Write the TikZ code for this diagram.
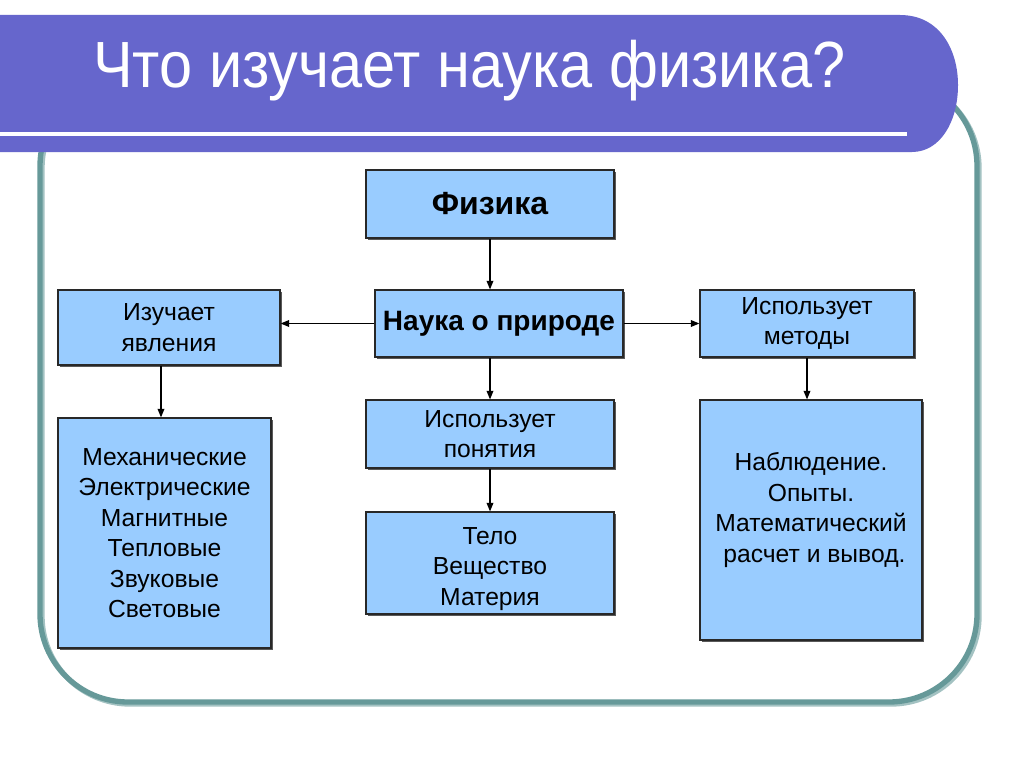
\documentclass[tikz,border=0pt]{standalone}
\usepackage{fontspec}
\usepackage{graphicx}
\setmainfont{Liberation Sans}
\usetikzlibrary{arrows.meta,shadows}
\definecolor{hdr}{RGB}{102,102,204}
\definecolor{frm}{RGB}{102,153,153}
\definecolor{boxfill}{RGB}{153,204,255}
\definecolor{boxline}{RGB}{40,40,40}
\begin{document}
\begin{tikzpicture}[x=0.75pt,y=-0.75pt,
  blk/.style={draw=boxline,line width=0.8pt,fill=boxfill,inner sep=0pt,
    align=center,font=\fontsize{18.5}{22.9}\selectfont,
    drop shadow={shadow xshift=1.5pt,shadow yshift=-1.5pt,fill=black!65,opacity=1}},
  bblk/.style={blk,font=\fontsize{21}{25}\selectfont\bfseries},
  txt/.style={align=center,inner sep=0pt,font=\fontsize{18.5}{22.9}\selectfont},
  arr/.style={line width=1.1pt,-{Triangle[length=6.5pt,width=5pt]}}]
\useasboundingbox (0,0) rectangle (1024,767);
\fill[white] (0,0) rectangle (1024,767);
% frame
\draw[frm!60,line width=4pt,rounded corners=66] (42,80) rectangle (979,704);
\draw[frm,line width=4pt,rounded corners=66] (40,78) rectangle (977,702);
% header band
\fill[hdr] (-5,15) -- (900,15) .. controls (940,15) and (958,50) .. (958,85)
  .. controls (958,122) and (940,152) .. (912,152) -- (-5,152) -- cycle;
\draw[white,line width=3pt] (-5,134) -- (907,134);
\node[anchor=base west,inner sep=0pt,text=white,font=\fontsize{49}{50}\selectfont] (title) at (93,88)
  {\scalebox{0.91}[1]{Что изучает наука физика?}};
% boxes
\node[bblk,font=\fontsize{24}{28}\selectfont\bfseries,minimum width=186pt,minimum height=51pt] (fiz) at (490,204) {Физика};
\node[bblk,minimum width=186pt,minimum height=50.25pt] (nauka) at (499,323.5) {Наука о природе};
\node[blk,minimum width=166.5pt,minimum height=56.25pt] (izuch) at (169,327.5) {Изучает\\явления};
\node[blk,minimum width=160.5pt,minimum height=50.25pt] (metod) at (807,323.5) {Использует\\методы};
\node[blk,minimum width=186pt,minimum height=51pt] (ponyat) at (490,434) {Использует\\понятия};
\node[blk,minimum width=186pt,minimum height=76.5pt] (telo) at (490,563) {};
\node[txt] (telot) at ([yshift=-4.5pt]telo.center) {Тело\\Вещество\\Материя};
\node[blk,minimum width=159.75pt,minimum height=172.5pt] (yavl) at (164.5,533)
  {Механические\\Электрические\\Магнитные\\Тепловые\\Звуковые\\Световые};
\node[blk,minimum width=166.5pt,minimum height=180pt] (nabl) at (811,520) {};
\node[txt] (nablt) at ([yshift=7.5pt]nabl.center)
  {Наблюдение.\\Опыты.\\Математический\\\ расчет и вывод.};
% arrows
\draw[arr] (fiz.south) -- (fiz.south |- nauka.north);
\draw[arr] (nauka.west) -- (nauka.west -| izuch.east);
\draw[arr] (nauka.east) -- (nauka.east -| metod.west);
\draw[arr] (nauka.south -| ponyat.north) -- (ponyat.north);
\draw[arr] (ponyat.south) -- (telo.north);
\draw[arr] ([xshift=-6pt]izuch.south) -- ([xshift=-6pt]izuch.south |- yavl.north);
\draw[arr] (metod.south) -- (metod.south |- nabl.north);
\end{tikzpicture}
\end{document}
